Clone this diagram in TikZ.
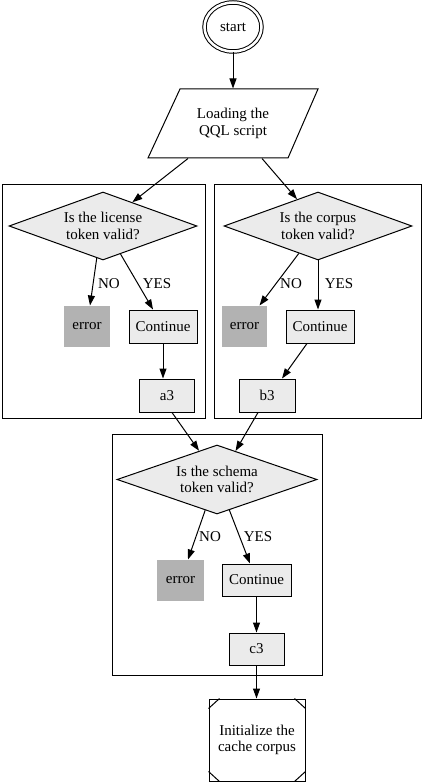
\documentclass[tikz,border=0pt]{standalone}
\usepackage{fontspec}
\setmainfont{Liberation Serif}
\usetikzlibrary{shapes.geometric,arrows.meta}
\definecolor{boxfill}{RGB}{235,235,235}
\definecolor{errfill}{RGB}{178,178,178}
\tikzset{
  base/.style={font=\fontsize{15}{16.5}\selectfont, line width=1pt},
  dec/.style={base, draw, fill=boxfill, shape=diamond, aspect=2.75, inner sep=0pt, align=center, minimum width=188pt, minimum height=68pt},
  contbox/.style={base, draw, fill=boxfill, rectangle, inner sep=0pt, minimum width=68pt, minimum height=33pt},
  errbox/.style={base, fill=errfill, rectangle, inner sep=0pt, minimum width=46pt, minimum height=41pt},
  cluster/.style={draw, line width=0.9pt, rectangle, inner sep=0pt},
  lab/.style={font=\fontsize{15}{16.5}\selectfont, inner sep=0pt},
  arr/.style={line width=1pt, -{Triangle[length=10pt,width=7pt]}}
}
\begin{document}
\begin{tikzpicture}[x=1pt,y=-1pt]
\useasboundingbox (0,0) rectangle (423,783);
% start
\node[base, draw, ellipse, double, double distance=2.5pt, minimum width=57pt, minimum height=49pt, inner sep=0pt] (start) at (233,27) {start};
% parallelogram
\node[base, minimum width=140pt, minimum height=69pt, inner sep=0pt, align=center] (load) at (233,123.5) {Loading the\\QQL script};
\coordinate (p1) at (180,89);
\coordinate (p2) at (318,89);
\coordinate (p3) at (288,158);
\coordinate (p4) at (148,158);
\draw[line width=1pt, line join=miter] (p1) -- (p2) -- (p3) -- (p4) -- cycle;
% clusters
\node[cluster, minimum width=203pt, minimum height=234pt] (k1) at (103.5,301) {};
\node[cluster, minimum width=207pt, minimum height=234pt] (k2) at (317.5,301) {};
\node[cluster, minimum width=210pt, minimum height=241pt] (k3) at (217,554.5) {};
% left cluster
\node[dec] (d1) at (103,226) {Is the license\\token valid?};
\node[errbox] (e1) at (87,326.5) {error};
\node[contbox] (c1) at (163,326.5) {Continue};
\node[contbox, minimum width=55pt] (a3) at (167,395.5) {a3};
% right cluster
\node[dec] (d2) at (318,226) {Is the corpus\\token valid?};
\node[errbox, minimum width=45pt] (e2) at (244.5,326.5) {error};
\node[contbox] (c2) at (320,326.5) {Continue};
\node[contbox, minimum width=56pt] (b3) at (267,395.5) {b3};
% bottom cluster
\node[dec, minimum width=200pt, minimum height=69pt] (d3) at (217,479.5) {Is the schema\\token valid?};
\node[errbox, minimum width=47pt] (e3) at (180.5,580.5) {error};
\node[contbox, minimum width=69pt, minimum height=32pt] (c3c) at (256.5,580) {Continue};
\node[contbox, minimum width=55pt, minimum height=32pt] (c3) at (256.5,649) {c3};
% init
\node[base, draw, rectangle, minimum width=96pt, minimum height=82pt, inner sep=0pt, align=center] (init) at (257,740) {Initialize the\\cache corpus};
\draw[line width=1pt] ([yshift=-10pt]init.north west) -- ([xshift=11pt]init.north west);
\draw[line width=1pt] ([yshift=-10pt]init.north east) -- ([xshift=-11pt]init.north east);
\draw[line width=1pt] ([yshift=10pt]init.south west) -- ([xshift=11pt]init.south west);
\draw[line width=1pt] ([yshift=10pt]init.south east) -- ([xshift=-11pt]init.south east);
% edges
\draw[arr] (start) -- (load.north);
\draw[arr] ([xshift=-45pt]load.south) -- (d1.39);
\draw[arr] ([xshift=29pt]load.south) -- (d2.128);
% left
\draw[arr] (d1.259) -- ([xshift=3pt]e1.north);
\draw[arr] (d1.302) -- ([xshift=-10pt]c1.north);
\draw[arr] (c1.south) -- (c1.south |- a3.north);
\node[lab] (no1) at (109,284) {NO};
\node[lab] (yes1) at (157,284) {YES};
% right
\draw[arr] (d2.235) -- ([xshift=15pt]e2.north);
\draw[arr] (d2.south) -- (d2.south |- c2.north);
\draw[arr] ([xshift=-13pt]c2.south) -- ([xshift=15pt]b3.north);
\node[lab] (no2) at (291,284) {NO};
\node[lab] (yes2) at (339,284) {YES};
% to schema
\draw[arr] ([xshift=5pt]a3.south) -- (d3.122);
\draw[arr] ([xshift=-9pt]b3.south) -- (d3.57);
% bottom
\draw[arr] (d3.249) -- ([xshift=7.5pt]e3.north);
\draw[arr] (d3.292) -- ([xshift=-6.5pt]c3c.north);
\draw[arr] (c3c.south) -- (c3c.south |- c3.north);
\draw[arr] (c3.south) -- (c3.south |- init.north);
\node[lab] (no3) at (210,537) {NO};
\node[lab] (yes3) at (258,537) {YES};
\end{tikzpicture}
\end{document}
